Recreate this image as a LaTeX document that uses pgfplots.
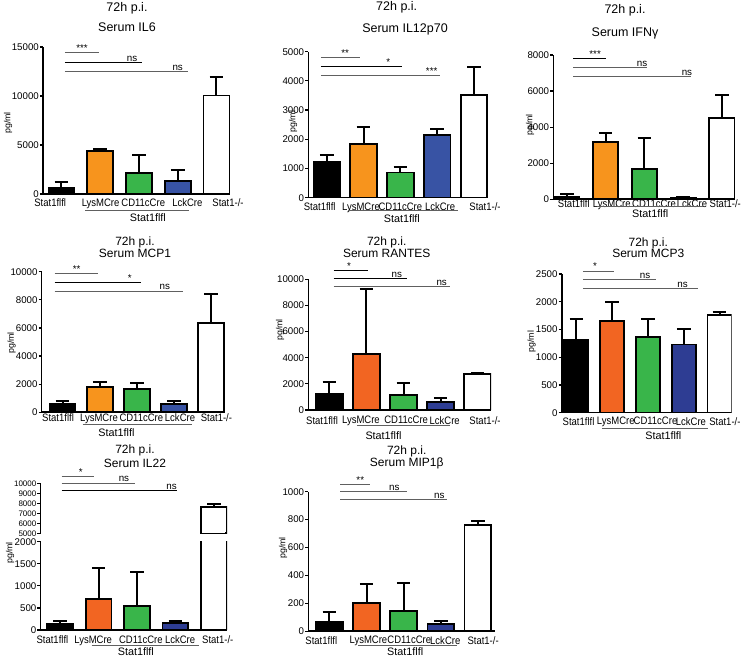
\documentclass[border=0pt]{standalone}
\usepackage{fontspec}
\setmainfont{Liberation Sans}
\usepackage{graphicx}
\usepackage{pgfplots}
\pgfplotsset{compat=1.18}

\definecolor{orA}{HTML}{F7941D}
\definecolor{orB}{HTML}{F26522}
\definecolor{grn}{HTML}{39B54A}
\definecolor{bluA}{HTML}{3853A4}
\definecolor{bluB}{HTML}{2E3D93}
\definecolor{sg}{HTML}{606060}

% category labels are set a little condensed, as in the original
\newcommand\tl[1]{\scalebox{0.88}[1]{#1}}

\pgfplotsset{
  panel/.style={
    scale only axis, anchor=south west,
    axis lines*=left,
    axis line style={line width=1.6pt,-},
    clip mode=individual,
    ymin=0,
    xtick={0,...,4},
    xticklabels={\tl{Stat1flfl},\tl{LysMCre},\tl{CD11cCre},\tl{LckCre},\tl{Stat1-/-}},
    x tick style={draw=none},
    y tick style={line width=1.2pt,black},
    tick align=outside, major tick length=3pt,
    scaled y ticks=false,
    /pgf/number format/1000 sep={}, /pgf/number format/assume math mode=true,
    yticklabel style={font=\fontsize{9.7}{10}\selectfont, inner sep=1pt},
    xticklabel style={font=\fontsize{10.8}{11}\selectfont, inner sep=0pt, anchor=north},
  },
  gb/.style={ybar, bar shift=0pt, draw=black, line width=1.8pt,
    error bars/y dir=plus, error bars/y explicit,
    error bars/error bar style={line width=2pt,black},
    error bars/error mark options={rotate=90,line width=2pt,mark size=6.8pt,black}},
}

% significance bar: x1 x2 y xtext text colour
\newcommand\sig[6]{%
  \draw[#6,line width=1pt] (axis cs:#1,#3) -- (axis cs:#2,#3);
  \node[anchor=south,inner sep=1pt,font=\fontsize{9.8}{10}\selectfont] at (axis cs:#4,#3) {#5};}
% group underline: x1 x2 offset xtext textoffset
\newcommand\grp[5]{%
  \draw[sg,line width=0.9pt] ([yshift=-#3pt]axis cs:#1,0) -- ([yshift=-#3pt]axis cs:#2,0);
  \node[font=\fontsize{10.8}{11}\selectfont] at ([yshift=-#5pt]axis cs:#4,0) {Stat1flfl};}

\begin{document}
\begin{tikzpicture}
\path[use as bounding box] (0,0) rectangle (756pt,658pt);

% ---- IL6
\begin{axis}[panel, at={(43pt,464pt)}, width=187pt, height=147pt,
  xmin=-0.477, xmax=4.35, ymax=15000, ytick={0,5000,10000,15000},
  xtick={-0.29,1.01,2.11,3.25,4.3},
  bar width=0.67, xticklabel style={yshift=-1.5pt}]
\addplot[gb,fill=black] coordinates {(0,670) +- (0,510)};
\addplot[gb,fill=orA] coordinates {(1,4350) +- (0,240)};
\addplot[gb,fill=grn] coordinates {(2,2140) +- (0,1800)};
\addplot[gb,fill=bluA] coordinates {(3,1290) +- (0,1190)};
\addplot[gb,fill=white] coordinates {(4,10060) +- (0,1880)};
\sig{0.09}{0.97}{14390}{0.53}{***}{sg}
\sig{0.09}{2.08}{13370}{1.82}{ns}{black}
\sig{0.09}{3.26}{12450}{3.0}{ns}{sg}
\grp{0.61}{3.29}{16.4}{2.23}{23.7}
\end{axis}

% ---- IL12p70
\begin{axis}[panel, at={(308.3pt,460.3pt)}, width=179.7pt, height=146pt,
  xmin=-0.5, xmax=4.38, ymax=5000, ytick={0,1000,...,5000},
  xtick={-0.19,0.93,2.0,3.08,4.3},
  bar width=0.72, xticklabel style={yshift=-1.9pt}]
\addplot[gb,fill=black] coordinates {(0,1230) +- (0,230)};
\addplot[gb,fill=orA] coordinates {(1,1840) +- (0,570)};
\addplot[gb,fill=grn] coordinates {(2,860) +- (0,200)};
\addplot[gb,fill=bluA] coordinates {(3,2150) +- (0,190)};
\addplot[gb,fill=white] coordinates {(4,3520) +- (0,950)};
\sig{-0.16}{0.9}{4810}{0.5}{**}{sg}
\sig{-0.16}{2.04}{4500}{1.67}{*}{black}
\sig{-0.16}{3.08}{4170}{2.85}{***}{sg}
\grp{0.59}{3.57}{13}{2.04}{20.8}
\end{axis}

% ---- IFNg
\begin{axis}[panel, at={(553.3pt,458.7pt)}, width=181.7pt, height=144.3pt,
  xmin=-0.35, xmax=4.34, ymax=8000, ytick={0,2000,...,8000},
  xtick={0.18,1.16,2.25,3.23,4.09},
  bar width=0.65, xticklabel style={yshift=2.6pt}]
\addplot[gb,fill=black] coordinates {(0,150) +- (0,150)};
\addplot[gb,fill=orA] coordinates {(1,3190) +- (0,470)};
\addplot[gb,fill=grn] coordinates {(2,1680) +- (0,1700)};
\addplot[gb,fill=bluA] coordinates {(3,75) +- (0,55)};
\addplot[gb,fill=white] coordinates {(4,4490) +- (0,1290)};
\sig{0.17}{1.01}{7820}{0.73}{***}{black}
\sig{0.17}{2.06}{7295}{1.94}{ns}{sg}
\sig{0.17}{3.2}{6800}{3.1}{ns}{sg}
\grp{0.77}{3.52}{7}{2.15}{14.2}
\end{axis}

% ---- MCP1
\begin{axis}[panel, at={(41.7pt,245.7pt)}, width=183.3pt, height=140.6pt,
  xmin=-0.56, xmax=4.37, ymax=10000, ytick={0,2000,...,10000},
  xtick={-0.12,0.98,2.12,3.16,4.14},
  bar width=0.7, xticklabel style={yshift=1.6pt}]
\addplot[gb,fill=black] coordinates {(0,620) +- (0,200)};
\addplot[gb,fill=orA] coordinates {(1,1820) +- (0,310)};
\addplot[gb,fill=grn] coordinates {(2,1660) +- (0,400)};
\addplot[gb,fill=bluA] coordinates {(3,590) +- (0,220)};
\addplot[gb,fill=white] coordinates {(4,6370) +- (0,2040)};
\sig{-0.21}{0.96}{9890}{0.38}{**}{sg}
\sig{-0.21}{2.1}{9246}{1.81}{*}{black}
\sig{-0.21}{3.23}{8606}{2.75}{ns}{sg}
\grp{0.54}{3.49}{12.4}{1.45}{20.6}
\end{axis}

% ---- RANTES
\begin{axis}[panel, at={(308.3pt,248pt)}, width=182.7pt, height=130.7pt,
  xmin=-0.57, xmax=4.36, ymax=10000, ytick={0,2000,...,10000},
  xtick={-0.2,0.85,2.07,3.11,4.2},
  bar width=0.72, xticklabel style={yshift=-3pt}]
\addplot[gb,fill=black] coordinates {(0,1200) +- (0,970)};
\addplot[gb,fill=orB] coordinates {(1,4290) +- (0,4940)};
\addplot[gb,fill=grn] coordinates {(2,1150) +- (0,890)};
\addplot[gb,fill=bluB] coordinates {(3,640) +- (0,300)};
\addplot[gb,fill=white] coordinates {(4,2730) +- (0,130)};
\sig{0.11}{1.05}{10660}{0.53}{*}{black}
\sig{0.11}{2.09}{10050}{1.82}{ns}{black}
\sig{0.11}{3.25}{9440}{3.03}{ns}{sg}
\grp{0.74}{3.25}{15.3}{1.46}{25.2}
\end{axis}

% ---- MCP3
\begin{axis}[panel, at={(561.7pt,245.3pt)}, width=170pt, height=138.7pt,
  xmin=-0.41, xmax=4.34, ymax=2500, ytick={0,500,...,2500},
  xtick={0.06,1.1,2.21,3.2,4.15},
  bar width=0.67, xticklabel style={yshift=-1.4pt}]
\addplot[gb,fill=black] coordinates {(0,1320) +- (0,370)};
\addplot[gb,fill=orB] coordinates {(1,1650) +- (0,350)};
\addplot[gb,fill=grn] coordinates {(2,1360) +- (0,335)};
\addplot[gb,fill=bluB] coordinates {(3,1230) +- (0,285)};
\addplot[gb,fill=white] coordinates {(4,1755) +- (0,65)};
\sig{0.18}{1.05}{2553}{0.52}{*}{sg}
\sig{0.18}{2.22}{2404}{1.92}{ns}{sg}
\sig{0.18}{3.41}{2241}{2.97}{ns}{sg}
\grp{0.71}{3.69}{15.6}{2.43}{22.5}
\end{axis}

% ---- IL22 (broken axis: lower part)
\begin{axis}[panel, at={(40.5pt,28pt)}, width=186.5pt, height=88.3pt,
  xmin=-0.51, xmax=4.34, ymax=2000, ytick={0,500,...,2000},
  xtick={-0.2,0.86,2.1,3.12,4.1},
  bar width=0.67, xticklabel style={yshift=-2.3pt}]
\addplot[gb,fill=black] coordinates {(0,136) +- (0,75)};
\addplot[gb,fill=orB] coordinates {(1,705) +- (0,705)};
\addplot[gb,fill=grn] coordinates {(2,552) +- (0,758)};
\addplot[gb,fill=bluB] coordinates {(3,150) +- (0,61)};
\addplot[gb,fill=white] coordinates {(4,7650) +- (0,250)};
\grp{0.82}{3.61}{15}{1.97}{21.2}
\end{axis}
% ---- IL22 (upper part)
\begin{axis}[panel, at={(40.5pt,124.7pt)}, width=186.5pt, height=50pt,
  xmin=-0.51, xmax=4.34, ymin=5000, ymax=10000, ytick={5000,6000,...,10000},
  axis x line=none, bar width=0.67,
  yticklabel style={font=\fontsize{8}{9}\selectfont}]
\addplot[gb,fill=white] coordinates {(4,7650) +- (0,250)};
% hide the bottom edge of the bar at the break
\addplot[ybar,bar shift=0pt,bar width=0.6,fill=white,draw=none] coordinates {(4,5250)};
\sig{0.04}{0.89}{10660}{0.54}{*}{sg}
\sig{0.04}{1.95}{10000}{1.66}{ns}{sg}
\sig{0.04}{3.05}{9230}{2.9}{ns}{black}
\end{axis}

% ---- MIP1b
\begin{axis}[panel, at={(308.3pt,26.7pt)}, width=186.7pt, height=139.6pt,
  xmin=-0.57, xmax=4.46, ymax=1000, ytick={0,200,...,1000},
  xtick={-0.22,1.05,2.15,3.12,4.14},
  bar width=0.72, xticklabel style={yshift=-1.7pt}]
\addplot[gb,fill=black] coordinates {(0,69) +- (0,72)};
\addplot[gb,fill=orB] coordinates {(1,205) +- (0,132)};
\addplot[gb,fill=grn] coordinates {(2,148) +- (0,198)};
\addplot[gb,fill=bluB] coordinates {(3,50) +- (0,22)};
\addplot[gb,fill=white] coordinates {(4,764) +- (0,26)};
\sig{0.29}{1.08}{1048}{0.83}{**}{sg}
\sig{0.29}{2.09}{998}{1.75}{ns}{sg}
\sig{0.29}{3.16}{941}{2.96}{ns}{sg}
\grp{0.78}{3.43}{13.7}{2.04}{20.6}
\end{axis}

% titles
\begin{scope}[font=\fontsize{12.5}{13}\selectfont]
\node at (127pt,650pt) {72h p.i.};   \node at (127pt,630.3pt) {Serum IL6};
\node at (396.7pt,651pt) {72h p.i.}; \node at (405pt,629pt) {Serum IL12p70};
\node at (625pt,648pt) {72h p.i.};   \node at (625pt,625pt) {Serum IFNγ};
\end{scope}
\begin{scope}[font=\fontsize{12}{12}\selectfont]
\node at (135pt,415.3pt) {72h p.i.};   \node at (135pt,404.5pt) {Serum MCP1};
\node at (386.7pt,415.3pt) {72h p.i.}; \node at (386.7pt,404.5pt) {Serum RANTES};
\node at (648.3pt,414.7pt) {72h p.i.}; \node at (648.3pt,404.5pt) {Serum MCP3};
\node at (135pt,208pt) {72h p.i.};     \node at (135pt,194.7pt) {Serum IL22};
\node at (406.7pt,206.3pt) {72h p.i.}; \node at (406.7pt,194.7pt) {Serum MIP1β};
\end{scope}
% y labels
\begin{scope}[font=\fontsize{8.8}{9}\selectfont]
\node[rotate=90] at (8pt,535pt) {pg/ml};
\node[rotate=90] at (293pt,536.3pt) {pg/ml};
\node[rotate=90] at (530pt,533pt) {pg/ml};
\node[rotate=90] at (11.7pt,315pt) {pg/ml};
\node[rotate=90] at (280pt,328pt) {pg/ml};
\node[rotate=90] at (531.7pt,316.3pt) {pg/ml};
\node[rotate=90] at (10pt,105pt) {pg/ml};
\node[rotate=90] at (283pt,110pt) {pg/ml};
\end{scope}
\end{tikzpicture}
\end{document}
